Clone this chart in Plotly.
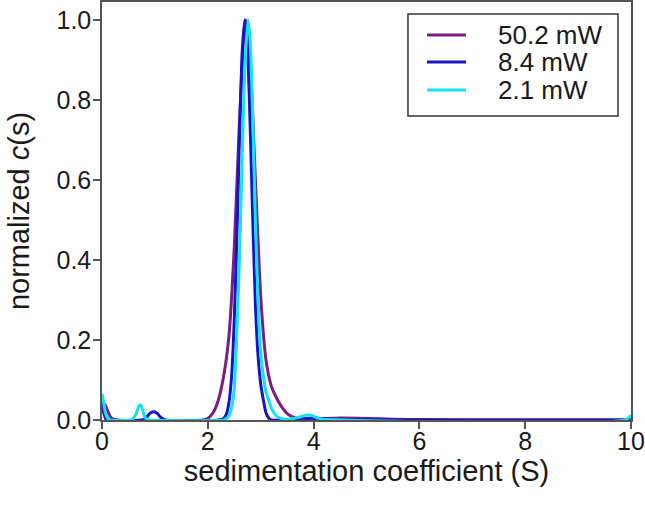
import plotly.graph_objects as go

# ---- data ----
s_purple = [0.0, 0.05, 0.1, 0.15, 0.2, 0.3, 1.9, 2.0, 2.1, 2.2, 2.3, 2.4, 2.5, 2.6, 2.7, 2.72,
            2.8, 2.9, 3.0, 3.1, 3.2, 3.3, 3.4, 3.5, 3.6, 3.7, 3.8, 4.0, 4.5, 5.0, 5.5, 6.0, 7.0, 10.0]
c_purple = [0.02, 0.04, 0.025, 0.01, 0.003, 0.0, 0.0, 0.004, 0.018, 0.05, 0.11, 0.21, 0.43, 0.75, 0.99, 1.0,
            0.9, 0.6, 0.31, 0.15, 0.085, 0.055, 0.032, 0.016, 0.008, 0.004, 0.003, 0.003, 0.005, 0.004, 0.002, 0.001, 0.0, 0.0]

s_blue = [0.0, 0.03, 0.07, 0.1, 0.75, 0.8, 0.85, 0.9, 0.95, 1.0, 1.05, 1.1, 1.15, 1.2,
          2.2, 2.3, 2.35, 2.4, 2.45, 2.5, 2.55, 2.6, 2.65, 2.7, 2.75, 2.8, 2.85, 2.9, 2.95,
          3.0, 3.05, 3.1, 3.15, 3.2, 3.8, 4.0, 4.3, 4.6, 10.0]
c_blue = [0.045, 0.02, 0.003, 0.0, 0.0, 0.002, 0.008, 0.016, 0.02, 0.02, 0.016, 0.008, 0.003, 0.0,
          0.0, 0.004, 0.014, 0.044, 0.11, 0.25, 0.46, 0.71, 0.92, 1.0, 0.93, 0.74, 0.5, 0.29, 0.16,
          0.09, 0.05, 0.018, 0.005, 0.0, 0.003, 0.005, 0.002, 0.0, 0.0]

s_cyan = [0.0, 0.03, 0.06, 0.1, 0.15, 0.55, 0.6, 0.65, 0.7, 0.73, 0.77, 0.8, 0.85, 0.9,
          2.3, 2.35, 2.4, 2.45, 2.5, 2.55, 2.6, 2.65, 2.7, 2.76, 2.8, 2.85, 2.9, 2.95,
          3.0, 3.05, 3.1, 3.15, 3.2, 3.3, 3.4, 3.5, 3.7, 3.85, 3.95, 4.1, 4.3, 9.9, 10.0]
c_cyan = [0.065, 0.045, 0.02, 0.005, 0.0, 0.0, 0.005, 0.018, 0.035, 0.038, 0.025, 0.01, 0.002, 0.0,
          0.0, 0.003, 0.01, 0.03, 0.08, 0.22, 0.41, 0.66, 0.88, 1.0, 0.95, 0.76, 0.5, 0.3,
          0.17, 0.11, 0.07, 0.05, 0.03, 0.01, 0.003, 0.002, 0.006, 0.012, 0.012, 0.004, 0.001, 0.0, 0.012]

series_names = ["50.2 mW", "8.4 mW", "2.1 mW"]
series_x = [s_purple, s_blue, s_cyan]
series_y = [c_purple, c_blue, c_cyan]
series_colors = ["#7d1d80", "#1414c8", "#10e4f0"]

x_ticks = [0, 2, 4, 6, 8, 10]
y_ticks = [0.0, 0.2, 0.4, 0.6, 0.8, 1.0]
y_tick_labels = ["0.0", "0.2", "0.4", "0.6", "0.8", "1.0"]

FONT = "Liberation Sans, Arial, sans-serif"
AX = "#555555"
TXT = "#1a1a1a"

fig = go.Figure()
for name, xs, ys, col in zip(series_names, series_x, series_y, series_colors):
    fig.add_trace(go.Scatter(x=xs, y=ys, mode="lines", name=name, showlegend=False,
                             line=dict(color=col, width=3, shape="spline", smoothing=0.6)))

# ---- hand-drawn legend (compact row spacing like the reference) ----
fig.add_shape(type="rect", xref="paper", yref="paper", x0=0.5784, x1=0.9754, y0=0.7273, y1=0.9713,
              line=dict(color="#333333", width=1.5), fillcolor="rgba(0,0,0,0)", layer="above")
row_y = [0.9211, 0.8565, 0.7895]
for name, col, ry in zip(series_names, series_colors, row_y):
    fig.add_shape(type="line", xref="paper", yref="paper", x0=0.6144, x1=0.6881, y0=ry, y1=ry,
                  line=dict(color=col, width=3), layer="above")
    fig.add_annotation(xref="paper", yref="paper", x=0.7448, y=ry, xanchor="left", yanchor="middle",
                       text=name, showarrow=False, font=dict(size=26, family=FONT, color=TXT))

fig.update_layout(
    width=645, height=509,
    margin=dict(l=102, r=14, t=2, b=89),
    paper_bgcolor="white", plot_bgcolor="white",
    font=dict(family=FONT, size=25, color=TXT),
    showlegend=False,
)
fig.update_xaxes(range=[0, 10], tickvals=x_ticks, ticktext=[str(v) for v in x_ticks],
                 showgrid=False, zeroline=False, showline=True, linecolor=AX, linewidth=1.5,
                 mirror=True, ticks="outside", ticklen=7, tickwidth=1.5, tickcolor=AX,
                 automargin=False, ticklabelstandoff=-9,
                 title=dict(text="sedimentation coefficient (S)", standoff=2, font=dict(size=29)),
                 tickfont=dict(size=25))
fig.update_yaxes(range=[0, 1.045], tickvals=y_ticks, ticktext=y_tick_labels,
                 showgrid=False, zeroline=False, showline=True, linecolor=AX, linewidth=1.5,
                 mirror=True, ticks="outside", ticklen=7, tickwidth=1.5, tickcolor=AX,
                 automargin=False, ticklabelstandoff=-3,
                 title=dict(text="normalized <i>c</i>(s)", standoff=18, font=dict(size=29)),
                 tickfont=dict(size=25))

fig.write_html("out.html", post_script="document.body.style.margin='0';",
               config={"displayModeBar": False})
